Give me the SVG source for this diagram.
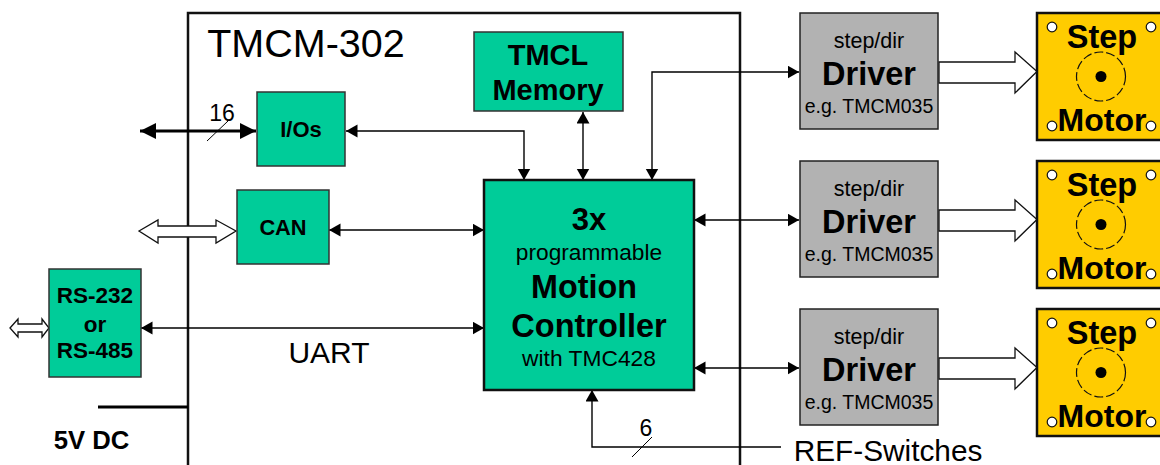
<svg xmlns="http://www.w3.org/2000/svg" width="1160" height="465" viewBox="0 0 1160 465">
<style>
text{font-family:"Liberation Sans",Arial,sans-serif;text-anchor:middle;fill:#000}
.b{font-weight:bold}
.g{fill:#00cc99;stroke:#333;stroke-width:1.5}
.d{fill:#b2b2b2;stroke:#222;stroke-width:1.5}
.m{fill:#ffcc00;stroke:#111;stroke-width:2.5}
.l{fill:none;stroke:#000;stroke-width:1.4}
.thick{stroke-width:3}
.thin{stroke-width:1}
.o{fill:#fff;stroke:#111;stroke-width:1.2}
.h{fill:#fff;stroke:#111;stroke-width:1.3}
</style>
<defs>
<marker id="a" markerUnits="userSpaceOnUse" markerWidth="13" markerHeight="14" refX="11.500" refY="6.500" orient="auto-start-reverse"><path d="M0 0L11.500 6.500L0 13Z" fill="#000"/></marker>
<marker id="t" markerUnits="userSpaceOnUse" markerWidth="17" markerHeight="18" refX="16" refY="8" orient="auto-start-reverse"><path d="M0 0L16 8L0 16Z" fill="#000"/></marker>
<g id="motor">
<rect class="m" x="1037" y="13" width="130" height="127"/>
<circle class="o" cx="1052" cy="27" r="4.800"/><circle class="o" cx="1151" cy="27" r="4.800"/>
<circle class="o" cx="1052" cy="126" r="4.800"/><circle class="o" cx="1151" cy="126" r="4.800"/>
<circle cx="1101" cy="76.500" r="24.500" fill="none" stroke="#111" stroke-width="1.200" stroke-dasharray="9 3"/>
<circle cx="1101" cy="76.500" r="5.500" fill="#000"/>
<text class="b" x="1102" y="47.500" font-size="32.500">Step</text>
<text class="b" x="1102" y="130.500" font-size="32">Motor</text>
</g>
<g id="drv">
<path class="h" d="M939 62H1015V52L1037 71.500L1015 93V83H939Z"/>
<rect class="d" x="800" y="13" width="138" height="116"/>
<text x="869" y="48" font-size="21.500">step/dir</text>
<text class="b" x="869" y="85" font-size="32.500">Driver</text>
<text x="869" y="113" font-size="19.500">e.g. TMCM035</text>
</g>
</defs>
<g id="module"><path d="M188 465V13H740V465" fill="none" stroke="#111" stroke-width="2.500"/><text x="306" y="57" font-size="39.500">TMCM-302</text></g>
<g id="connectors">
<path class="l thick" d="M140 131H256" marker-start="url(#t)" marker-end="url(#t)"/>
<path class="l thin" d="M207 141L228 121"/>
<path class="l" d="M346 131H524V180" marker-start="url(#a)" marker-end="url(#a)"/>
<path class="l" d="M583 112V180" marker-start="url(#a)" marker-end="url(#a)"/>
<path class="l" d="M652 180V72H799" marker-start="url(#a)" marker-end="url(#a)"/>
<path class="l" d="M329 230H484" marker-start="url(#a)" marker-end="url(#a)"/>
<path class="l" d="M694 220H799" marker-start="url(#a)" marker-end="url(#a)"/>
<path class="l" d="M694 368H799" marker-start="url(#a)" marker-end="url(#a)"/>
<path class="l" d="M141 328H484" marker-start="url(#a)" marker-end="url(#a)"/>
<path class="l" d="M781 447H592V390" marker-end="url(#a)"/>
<path class="l thin" d="M632 457L652 437"/>
<path class="l thick" d="M98 407H188"/>
<path class="h" d="M139 231L158 220V226H216V220L236 231L216 243V237H158V243Z"/>
<path class="h" d="M10 328L18 319V324H42V319L49 328L42 337V332H18V337Z"/>
</g>
<g id="io"><rect class="g" x="257" y="92" width="88" height="74"/><text class="b" x="301" y="137" font-size="22">I/Os</text></g>
<g id="can"><rect class="g" x="237" y="190" width="92" height="74"/><text class="b" x="283" y="235" font-size="21.800">CAN</text></g>
<g id="rs"><rect class="g" x="49" y="269" width="92" height="108"/><text class="b" x="95" y="303" font-size="22.500">RS-232</text><text class="b" x="95" y="332" font-size="22.500">or</text><text class="b" x="95" y="358" font-size="22.500">RS-485</text></g>
<g id="mem"><rect class="g" x="474" y="32" width="149" height="79"/><text class="b" x="548" y="65" font-size="29">TMCL</text><text class="b" x="548" y="100" font-size="29">Memory</text></g>
<g id="ctrl"><rect x="484" y="180" width="210" height="210" fill="#00cc99" stroke="#111" stroke-width="2.500"/>
<text class="b" x="589" y="230" font-size="31">3x</text>
<text x="589" y="260" font-size="22.700">programmable</text>
<text class="b" x="584" y="298" font-size="32.300">Motion</text>
<text class="b" x="589" y="337" font-size="32.500">Controller</text>
<text x="589" y="366" font-size="22.800">with TMC428</text></g>
<g id="d1"><use href="#drv"/></g>
<g id="d2"><use href="#drv" y="148"/></g>
<g id="d3"><use href="#drv" y="296"/></g>
<g id="m1"><use href="#motor"/></g>
<g id="m2"><use href="#motor" y="148"/></g>
<g id="m3"><use href="#motor" y="296"/></g>
<text x="222" y="121" font-size="23">16</text>
<text x="646" y="436" font-size="23">6</text>
<text x="329" y="363" font-size="30">UART</text>
<text x="888" y="461" font-size="29.800">REF-Switches</text>
<text class="b" x="91.500" y="449" font-size="25.700">5V DC</text>
</svg>
